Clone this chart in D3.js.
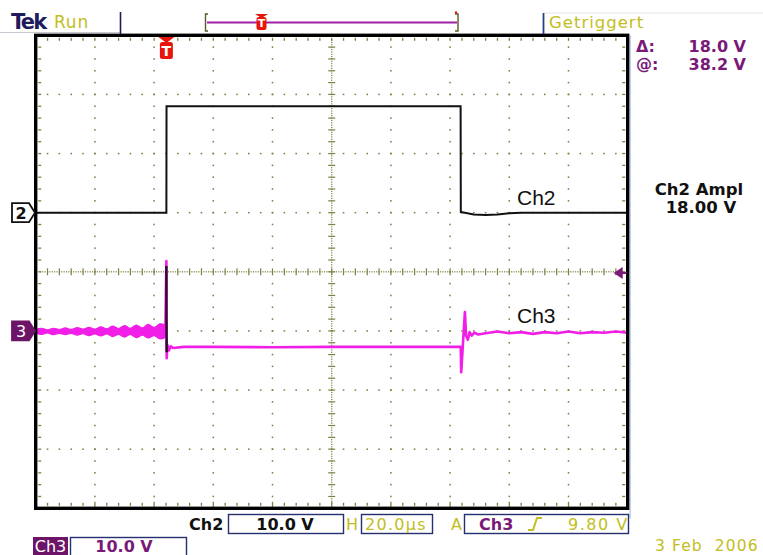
<!DOCTYPE html>
<html>
<head>
<meta charset="utf-8">
<script src="https://cdn.jsdelivr.net/npm/d3@7/dist/d3.min.js"></script>
<style>
  html, body { margin: 0; padding: 0; background: #ffffff; }
  svg { display: block; }
  text { font-family: "DejaVu Sans", Verdana, sans-serif; }
</style>
</head>
<body>
<svg id="scope" width="763" height="555"></svg>
<script>
// ---- Acquisition settings ----
const usPerDiv = 20;            // horizontal: 20.0 µs/div
const timeDivs = 10;
const voltDivs = 8;
const ch2VoltsPerDiv = 10.0;
const ch3VoltsPerDiv = 10.0;
const ch2OffsetDiv = 1.0;       // ground marker position (divisions from centre)
const ch3OffsetDiv = -1.0;
const triggerLevel = 9.80;      // Ch3 rising edge

// ---- Ch2 waveform (µs, V) ----
const ch2Time  = [0, 44.15, 44.2, 143.55, 143.62, 145, 148, 152, 156, 160, 164, 200];
const ch2Volts = [0, 0,     18.0, 18.0,   0.1,    0,   -0.3, -0.4, -0.3, -0.1, 0, 0];

// ---- Ch3 pre-trigger noise envelope (µs, V) ----
const ch3NoiseTime = [0, 2, 4, 6, 8, 10, 12, 14, 16, 18, 20, 22, 24, 26, 28, 30, 32, 34, 36, 38, 40, 42, 43.8];
const ch3NoiseHigh = [0.25, 0.45, 0.2, 0.45, 0.25, 0.5, 0.25, 0.55, 0.3, 0.6, 0.3, 0.7, 0.35, 0.8, 0.4, 0.9, 0.45, 1.0, 0.5, 1.1, 0.6, 1.2, 1.0];
const ch3NoiseLow  = [-0.35, -0.6, -0.35, -0.65, -0.4, -0.65, -0.4, -0.7, -0.45, -0.8, -0.5, -0.85, -0.5, -0.95, -0.6, -1.05, -0.6, -1.15, -0.7, -1.2, -0.8, -1.35, -1.1];

// ---- Ch3 waveform (µs, V) ----
const ch3Time  = [43.8, 44.15, 44.25, 44.5, 45.0, 45.6, 46.5, 50, 60, 80, 100, 120, 143.6,
                  143.75, 145.0, 145.4, 146.0, 146.6, 147.3, 148.2, 149.5,
                  152, 156, 160, 164, 168, 172, 176, 180, 184, 188, 192, 196, 200];
const ch3Volts = [-0.1, 11.8, -4.6, -2.4, -3.3, -2.6, -2.9, -2.7, -2.7, -2.75, -2.7, -2.7, -2.7,
                  -7.0, 3.2, -0.8, -1.5, -0.2, -0.8, -0.3, -0.6,
                  -0.4, -0.1, -0.4, -0.2, -0.5, -0.2, -0.4, -0.1, -0.4, -0.2, -0.3, -0.1, -0.3];
// fast edge drawn with a dark core
const ch3EdgeTime  = [44.15, 44.17, 44.25];
const ch3EdgeVolts = [11.0, 2.0, -3.6];

// ---- Readouts ----
const cursorLabels = ["\u0394:", "@:"];
const cursorValues = ["18.0 V", "38.2 V"];
const measureTitle = "Ch2 Ampl";
const measureValue = "18.00 V";
const traceLabels = ["Ch2", "Ch3"];
const traceLabelAnchor = [[162.6, 1.3], [162.6, 1.3]]; // [µs, V of its channel]
const dateText = "3 Feb  2006";

// ---- Colours ----
const C = {
  grid: "#7f7f45",
  frame: "#000000",
  ch2: "#111111",
  ch3: "#f01ee6",
  purple: "#7a1a78",
  purpleFill: "#6e1468",
  yellow: "#c2bd22",
  navy: "#1f1b5c",
  boxStroke: "#26306e",
  red: "#e8140c"
};

const svg = d3.select("#scope");

// graticule frame
const gx0 = 35.7, gx1 = 627.7, gy0 = 35.3, gy1 = 508.3;
const x = d3.scaleLinear().domain([0, usPerDiv * timeDivs]).range([gx0, gx1]);
const yDiv = d3.scaleLinear().domain([-voltDivs / 2, voltDivs / 2]).range([gy1, gy0]);
const y2 = v => yDiv(ch2OffsetDiv + v / ch2VoltsPerDiv);
const y3 = v => yDiv(ch3OffsetDiv + v / ch3VoltsPerDiv);

const xDiv = d3.scaleLinear().domain([0, timeDivs]).range([gx0, gx1]);

// ---- Graticule dots ----
const g = svg.append("g");
const minorX = d3.range(0, timeDivs * 5 + 1).map(i => i / 5);
const minorY = d3.range(-voltDivs * 5 / 2, voltDivs * 5 / 2 + 1).map(i => i / 5);
const dot = (px, py, w = 1.4, h = 1.4) =>
  g.append("rect").attr("x", px - w / 2).attr("y", py - h / 2).attr("width", w).attr("height", h).attr("fill", C.grid);

// interior major lines as dotted rows/columns
for (let i = 1; i < timeDivs; i++) {
  if (i === timeDivs / 2) continue;
  minorY.forEach(d => { if (Math.abs(d) < voltDivs / 2) dot(xDiv(i), yDiv(d), 1.5, 1.6); });
}
for (let j = -voltDivs / 2 + 1; j < voltDivs / 2; j++) {
  if (j === 0) continue;
  minorX.forEach(d => { if (d > 0 && d < timeDivs) dot(xDiv(d), yDiv(j), 1.6, 1.5); });
}
// centre cross: fine dots plus tick marks
d3.range(0, timeDivs * 25 + 1).forEach(i => {
  const d = i / 25;
  if (d > 0.05 && d < timeDivs - 0.05) dot(xDiv(d), yDiv(0), 1.1, 1.3);
});
d3.range(0, voltDivs * 25 + 1).forEach(i => {
  const d = i / 25 - voltDivs / 2;
  if (Math.abs(d) < voltDivs / 2 - 0.05) dot(xDiv(timeDivs / 2), yDiv(d), 1.3, 1.1);
});
minorX.forEach(d => { if (d > 0 && d < timeDivs) dot(xDiv(d), yDiv(0), 1.2, 7); });
minorY.forEach(d => { if (Math.abs(d) < voltDivs / 2) dot(xDiv(timeDivs / 2), yDiv(d), 7, 1.2); });
// ticks along the frame edges
minorX.forEach(d => {
  if (d <= 0 || d >= timeDivs) return;
  dot(xDiv(d), gy0 + 4, 1.3, 3);
  dot(xDiv(d), gy1 - 4, 1.3, Number.isInteger(d) ? 5 : 3);
});
minorY.forEach(d => {
  if (Math.abs(d) >= voltDivs / 2) return;
  dot(gx0 + 4, yDiv(d), 3, 1.3);
  dot(gx1 - 4, yDiv(d), 3, 1.3);
});

// ---- Traces ----
const zip = (a, b) => a.map((v, i) => [v, b[i]]);

// Ch3 noise band before the trigger
svg.append("path")
  .datum(ch3NoiseTime.map((t, i) => [t, ch3NoiseLow[i], ch3NoiseHigh[i]]))
  .attr("fill", C.ch3).attr("stroke", C.ch3).attr("stroke-width", 1.2)
  .attr("d", d3.area().curve(d3.curveCatmullRom)
    .x(d => x(d[0])).y0(d => y3(d[1])).y1(d => y3(d[2])));

svg.append("path")
  .datum(zip(ch3Time, ch3Volts))
  .attr("fill", "none").attr("stroke", C.ch3).attr("stroke-width", 2.6)
  .attr("stroke-linejoin", "round")
  .attr("d", d3.line().x(d => x(d[0])).y(d => y3(d[1])));

svg.append("path")
  .datum(zip(ch3EdgeTime, ch3EdgeVolts))
  .attr("fill", "none").attr("stroke", "#2b0a2a").attr("stroke-width", 2.4)
  .attr("d", d3.line().x(d => x(d[0])).y(d => y3(d[1])));

svg.append("path")
  .datum(zip(ch2Time, ch2Volts))
  .attr("fill", "none").attr("stroke", C.ch2).attr("stroke-width", 2)
  .attr("stroke-linejoin", "miter")
  .attr("d", d3.line().x(d => x(d[0])).y(d => y2(d[1])));

// trace labels
[y2, y3].forEach((yf, i) => {
  svg.append("text").attr("x", x(traceLabelAnchor[i][0])).attr("y", yf(traceLabelAnchor[i][1]))
    .style("font-family", "Liberation Sans, Arial, sans-serif")
    .attr("font-size", 21).attr("fill", "#111").text(traceLabels[i]);
});

// ---- Frame ----
svg.append("rect").attr("x", gx0).attr("y", gy0).attr("width", gx1 - gx0).attr("height", gy1 - gy0)
  .attr("fill", "none").attr("stroke", C.frame).attr("stroke-width", 3.4);
svg.append("line").attr("x1", gx1 + 2.4).attr("x2", gx1 + 2.4).attr("y1", gy0).attr("y2", gy1 + 10)
  .attr("stroke", "#3a5fc0").attr("stroke-width", 0.8).attr("opacity", 0.6);

// ---- Channel ground markers ----
function groundMarker(yPos, label, fill, textFill) {
  const pts = [[12, yPos - 9.5], [29, yPos - 9.5], [35, yPos], [29, yPos + 9.5], [12, yPos + 9.5]];
  svg.append("polygon").attr("points", pts.map(p => p.join(",")).join(" "))
    .attr("fill", fill).attr("stroke", fill === "#ffffff" ? "#111" : fill).attr("stroke-width", 1.8);
  svg.append("text").attr("x", 21).attr("y", yPos + 6).attr("text-anchor", "middle")
    .attr("font-size", 16).attr("font-weight", fill === "#ffffff" ? "bold" : "normal")
    .attr("fill", textFill).text(label);
}
groundMarker(y2(0), "2", "#ffffff", "#111");
groundMarker(y3(0), "3", C.purpleFill, "#ffffff");

// trigger level arrow on the right edge
const ty = y3(triggerLevel);
svg.append("path")
  .attr("d", `M${gx1 - 14},${ty} L${gx1 - 5},${ty - 6} L${gx1 - 5},${ty + 6} Z`)
  .attr("fill", C.purple);
svg.append("line").attr("x1", gx1 - 6).attr("x2", gx1 - 1).attr("y1", ty).attr("y2", ty)
  .attr("stroke", C.purple).attr("stroke-width", 2);

// trigger position marker on the graticule
function trigMarker(cx, top, w, triH, boxH, fs) {
  svg.append("path").attr("d", `M${cx - w / 2 - 1.5},${top} L${cx + w / 2 + 1.5},${top} L${cx},${top + triH} Z`).attr("fill", C.red);
  svg.append("rect").attr("x", cx - w / 2).attr("y", top + triH - 1).attr("width", w).attr("height", boxH)
    .attr("rx", 2.5).attr("fill", C.red);
  svg.append("text").attr("x", cx).attr("y", top + triH - 1 + boxH * 0.8).attr("text-anchor", "middle")
    .attr("font-size", fs).attr("font-weight", "bold").attr("fill", "#fff").text("T");
}
const trigX = x(ch2Time[1]);
trigMarker(trigX, 37, 13, 6, 17, 14);

// ---- Top status bar ----
svg.append("line").attr("x1", 0).attr("x2", 120).attr("y1", 32.5).attr("y2", 32.5).attr("stroke", "#c8c8d0").attr("stroke-width", 1);
svg.append("line").attr("x1", 543).attr("x2", 763).attr("y1", 13).attr("y2", 13).attr("stroke", "#e2e2e6").attr("stroke-width", 1);
svg.append("text").attr("x", 11).attr("y", 29).attr("font-size", 21).attr("font-weight", "bold")
  .attr("letter-spacing", -1.8).attr("fill", C.navy).text("Tek");
svg.append("text").attr("x", 54).attr("y", 28).attr("font-size", 17).attr("letter-spacing", 0.8)
  .attr("fill", C.yellow).text("Run");
svg.append("line").attr("x1", 120.5).attr("x2", 120.5).attr("y1", 12).attr("y2", 34).attr("stroke", C.navy).attr("stroke-width", 1.6);

// record window / trigger position bar
svg.append("path").attr("d", "M208,14 L205.5,14 L205.5,31 L208,31").attr("fill", "none").attr("stroke", "#5a5a2a").attr("stroke-width", 1.4);
svg.append("path").attr("d", "M455,14 L458,14 L458,31 L455,31").attr("fill", "none").attr("stroke", "#5a5a2a").attr("stroke-width", 1.4);
svg.append("line").attr("x1", 207).attr("x2", 457).attr("y1", 22.5).attr("y2", 22.5).attr("stroke", "#a020a8").attr("stroke-width", 2.2);
svg.append("circle").attr("cx", 456).attr("cy", 12.5).attr("r", 1.2).attr("fill", C.red);
trigMarker(261.5, 14, 10, 4, 13, 11);

svg.append("line").attr("x1", 543.5).attr("x2", 543.5).attr("y1", 13).attr("y2", 34).attr("stroke", "#2a3f8a").attr("stroke-width", 1.8);
svg.append("text").attr("x", 549).attr("y", 28).attr("font-size", 16.5).attr("letter-spacing", 1)
  .attr("fill", C.yellow).text("Getriggert");

// cursor readouts
cursorLabels.forEach((l, i) => {
  svg.append("text").attr("x", 636).attr("y", 52 + i * 18).attr("font-size", 16).attr("font-weight", "bold")
    .attr("fill", C.purple).text(l);
  svg.append("text").attr("x", 746).attr("y", 52 + i * 18).attr("text-anchor", "end").attr("font-size", 16)
    .attr("font-weight", "bold").attr("fill", C.purple).text(cursorValues[i]);
});

// measurement
svg.append("text").attr("x", 699).attr("y", 195).attr("text-anchor", "middle").attr("font-size", 16.5)
  .attr("font-weight", "bold").attr("fill", "#111").text(measureTitle);
svg.append("text").attr("x", 701).attr("y", 213).attr("text-anchor", "middle").attr("font-size", 16.5)
  .attr("font-weight", "bold").attr("fill", "#111").text(measureValue);

// ---- Bottom status bar ----
const box = (x0, y0, w, h) => svg.append("rect").attr("x", x0).attr("y", y0).attr("width", w).attr("height", h)
  .attr("fill", "none").attr("stroke", C.boxStroke).attr("stroke-width", 1.4);

svg.append("text").attr("x", 189).attr("y", 530).attr("font-size", 16).attr("font-weight", "bold").attr("fill", "#111").text("Ch2");
box(228.5, 514.5, 115, 19);
svg.append("text").attr("x", 285).attr("y", 530).attr("text-anchor", "middle").attr("font-size", 16)
  .attr("font-weight", "bold").attr("fill", "#111").text(ch2VoltsPerDiv.toFixed(1) + " V");

svg.append("text").attr("x", 346).attr("y", 530).attr("font-size", 16).attr("fill", C.yellow).text("H");
box(361.5, 514.5, 71, 19);
svg.append("text").attr("x", 365).attr("y", 530).attr("font-size", 16).attr("letter-spacing", 1.3)
  .attr("fill", C.yellow).text(usPerDiv.toFixed(1) + "\u00b5s");

svg.append("text").attr("x", 451).attr("y", 530).attr("font-size", 16).attr("fill", C.yellow).text("A");
box(464.5, 514.5, 164, 19);
svg.append("text").attr("x", 479).attr("y", 530).attr("font-size", 16).attr("font-weight", "bold")
  .attr("fill", C.purple).text("Ch3");
svg.append("path").attr("d", "M528,530 L533,530 L537,518 L542,518").attr("fill", "none")
  .attr("stroke", C.yellow).attr("stroke-width", 2);
svg.append("text").attr("x", 568).attr("y", 530).attr("font-size", 16).attr("letter-spacing", 1.5)
  .attr("fill", C.yellow).text(triggerLevel.toFixed(2) + " V");

svg.append("rect").attr("x", 33).attr("y", 537).attr("width", 35).attr("height", 18).attr("fill", C.purpleFill);
svg.append("text").attr("x", 50.5).attr("y", 552).attr("text-anchor", "middle").attr("font-size", 16)
  .attr("fill", "#fff").text("Ch3");
box(70.5, 537.5, 116, 19);
svg.append("text").attr("x", 124).attr("y", 552).attr("text-anchor", "middle").attr("font-size", 16)
  .attr("font-weight", "bold").attr("fill", C.purple).text(ch3VoltsPerDiv.toFixed(1) + " V");

svg.append("text").attr("x", 655).attr("y", 551).attr("font-size", 15.5).attr("letter-spacing", 1.1)
  .style("white-space", "pre").attr("fill", C.yellow).text(dateText);
</script>
</body>
</html>
